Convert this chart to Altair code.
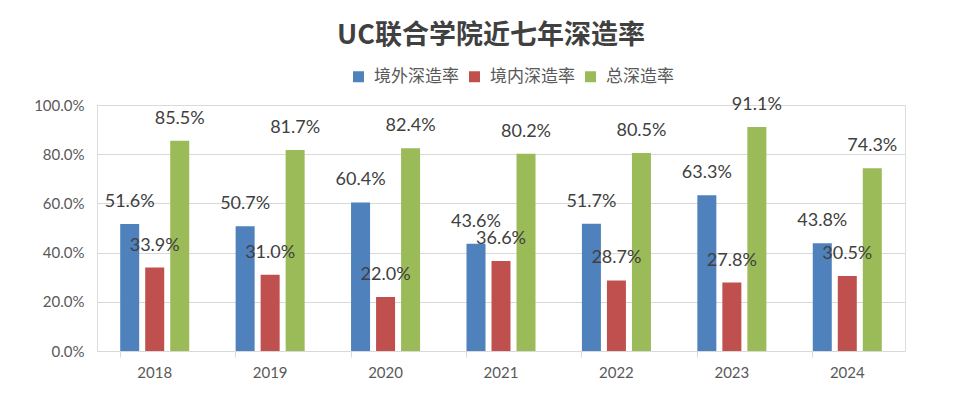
import altair as alt
import pandas as pd

years = ["2018", "2019", "2020", "2021", "2022", "2023", "2024"]
series = ["境外深造率", "境内深造率", "总深造率"]
overseas = [0.516, 0.507, 0.604, 0.436, 0.517, 0.633, 0.438]
domestic = [0.339, 0.310, 0.220, 0.366, 0.287, 0.278, 0.305]
total = [0.855, 0.817, 0.824, 0.802, 0.805, 0.911, 0.743]
colors = ["#4F81BD", "#C0504D", "#9BBB59"]

rows = []
for i, y in enumerate(years):
    for s, vals in zip(series, [overseas, domestic, total]):
        rows.append({"year": y, "series": s, "value": vals[i]})
df = pd.DataFrame(rows)

x = alt.X("year:N", sort=years, title=None,
          scale=alt.Scale(paddingInner=0.402, paddingOuter=0.201),
          axis=alt.Axis(labelAngle=0, bandPosition=0, tickSize=6, tickColor="#d9d9d9",
                        domainColor="#d9d9d9", labelPadding=8, labelFontSize=15,
                        labelColor="#595959", labelFont="Lato", grid=False))
xo = alt.XOffset("series:N", sort=series, scale=alt.Scale(paddingInner=0.24, paddingOuter=0))
y = alt.Y("value:Q", title=None,
          scale=alt.Scale(domain=[0, 1]),
          axis=alt.Axis(format=".1%", values=[0, 0.2, 0.4, 0.6, 0.8, 1.0], tickSize=0,
                        domain=False, labelPadding=13, labelFontSize=15,
                        labelColor="#595959", labelFont="Lato",
                        gridColor="#d9d9d9", gridWidth=1))
color = alt.Color("series:N", sort=series, title=None,
                  scale=alt.Scale(domain=series, range=colors),
                  legend=alt.Legend(orient="none", legendX=253, legendY=-37, direction="horizontal",
                                    columns=3, symbolType="square", symbolSize=121,
                                    symbolStrokeWidth=0, labelFontSize=17, labelColor="#595959",
                                    labelFont="Noto Sans CJK SC", labelOffset=7, columnPadding=7,
                                    padding=0))

bars = alt.Chart(df).mark_bar().encode(x=x, xOffset=xo, y=y, color=color)
labels = alt.Chart(df).mark_text(baseline="alphabetic", dy=-17, fontSize=18, font="Lato",
                                 color="#404040").encode(
    x=alt.X("year:N", sort=years), xOffset=alt.XOffset("series:N", sort=series),
    y="value:Q", text=alt.Text("value:Q", format=".1%"))

chart = alt.layer(bars, labels).properties(
    width=808, height=246,
    title=alt.TitleParams("UC联合学院近七年深造率", font="Noto Sans CJK SC", fontSize=27,
                          fontWeight="bold", color="#404040", anchor="middle", dx=-10, offset=18),
    autosize=alt.AutoSizeParams(type="none"),
    padding={"left": 89, "top": 97, "right": 50, "bottom": 35},
).configure_view(stroke=None).configure(background="white")

chart.save("out.html", embed_options={"renderer": "svg", "actions": False})
